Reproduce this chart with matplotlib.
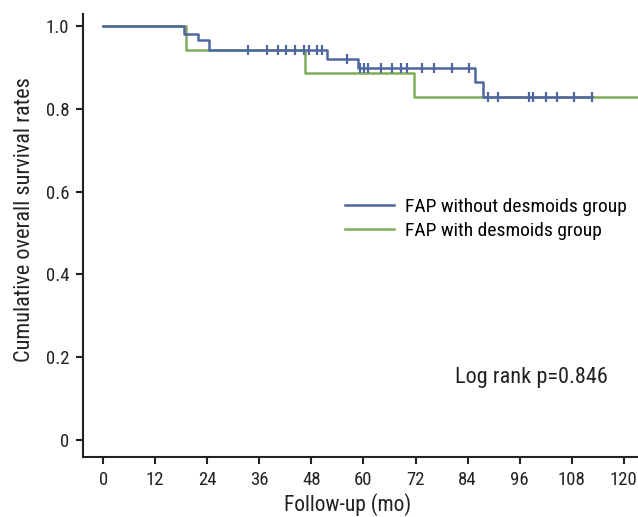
import matplotlib
matplotlib.use("Agg")
import matplotlib.pyplot as plt
from matplotlib import font_manager

# pick a narrow font if one is installed
names = set(f.name for f in font_manager.fontManager.ttflist)
for fam in ["Roboto Condensed", "Liberation Sans Narrow", "DejaVu Sans Condensed", "Liberation Sans"]:
    if fam in names:
        plt.rcParams["font.family"] = fam
        break

# follow-up (months) and survival for the two groups
no_des_t = [0, 18.6, 21.9, 24.4, 51.7, 58.7, 85.7, 87.5, 112.8]
no_des_s = [1.0, 0.981, 0.966, 0.943, 0.921, 0.899, 0.865, 0.828, 0.828]
no_des_cens = [33.4, 37.8, 40.4, 42.1, 44.2, 46.2, 47.4, 49.2, 50.4, 56.3,
               59.3, 60.1, 61.1, 64.0, 66.6, 68.6, 70.1, 73.5, 76.2, 80.5, 84.3,
               88.7, 91.0, 98.2, 99.1, 102.0, 104.7, 108.6, 112.8]

des_t = [0, 19.0, 46.5, 71.6, 124]
des_s = [1.0, 0.943, 0.887, 0.829, 0.829]

blue = "#4f67a0"
green = "#80ad58"
dark = "#222222"

xticks = [0, 12, 24, 36, 48, 60, 72, 84, 96, 108, 120]
yticks = [0, 0.2, 0.4, 0.6, 0.8, 1.0]
ytick_labels = ["0", "0.2", "0.4", "0.6", "0.8", "1.0"]


def surv_at(ts, ss, x):
    v = ss[0]
    for t, s in zip(ts, ss):
        if t <= x:
            v = s
    return v


fig = plt.figure(figsize=(6.38, 5.17), dpi=100)
ax = fig.add_axes([83.3 / 638, 1 - 457.3 / 517, (638 - 83.3) / 638, (457.3 - 14) / 517])

ax.step(des_t, des_s, where="post", color=green, lw=1.8, label="FAP with desmoids group", zorder=2)
ax.step(no_des_t, no_des_s, where="post", color=blue, lw=1.8, label="FAP without desmoids group", zorder=3)
ax.plot(no_des_cens, [surv_at(no_des_t, no_des_s, c) for c in no_des_cens],
        ls="none", marker="|", ms=7, mew=1.6, color=blue, zorder=4)

ax.set_xlim(-4.6, 123.3)
ax.set_ylim(-0.042, 1.029)
ax.set_xticks(xticks)
ax.set_yticks(yticks)
ax.set_yticklabels(ytick_labels)

for s in ["top", "right"]:
    ax.spines[s].set_visible(False)
for s in ["left", "bottom"]:
    ax.spines[s].set_linewidth(1.5)
    ax.spines[s].set_color(dark)
ax.tick_params(length=5, width=1.5, labelsize=13.5, colors=dark)
ax.tick_params(axis="x", pad=5)
ax.tick_params(axis="y", pad=5)

ax.set_xlabel("Follow-up (mo)", fontsize=15.5, color=dark)
ax.xaxis.set_label_coords(0.477, -0.081)
ax.set_ylabel("Cumulative overall survival rates", fontsize=16, color=dark)
ax.yaxis.set_label_coords(-0.087, 0.536)

h, l = ax.get_legend_handles_labels()
ax.legend(h[::-1], l[::-1], loc="center left", bbox_to_anchor=(0.472, 0.5375), frameon=False,
          fontsize=14, handlelength=2.5, handletextpad=0.6, borderpad=0, borderaxespad=0,
          labelspacing=0.3)

ax.text(81.1, 0.152, "Log rank p=0.846", fontsize=16, va="center", ha="left", color=dark)

fig.savefig("out.png", dpi=100)
